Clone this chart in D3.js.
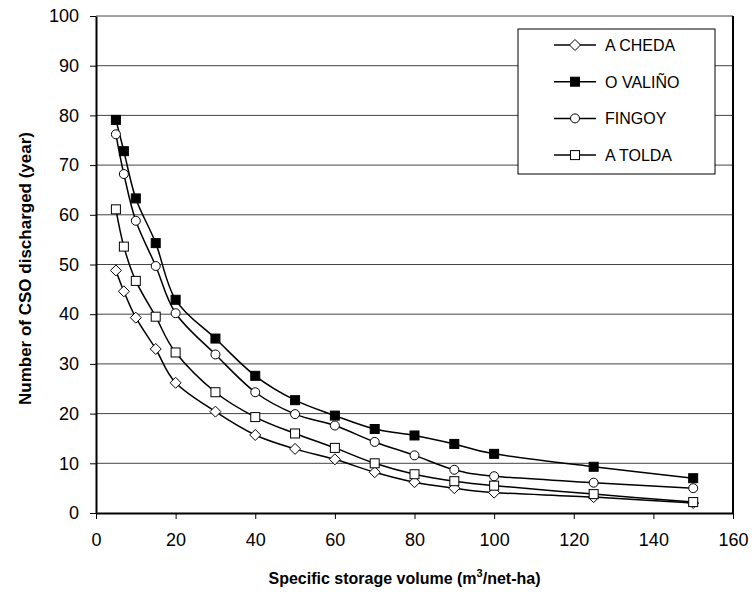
<!DOCTYPE html>
<html>
<head>
<meta charset="utf-8">
<script src="https://cdn.jsdelivr.net/npm/d3@7"></script>
<style>
  body { margin: 0; background: #fff; }
  text { font-family: "Liberation Sans", Arial, sans-serif; fill: #000; }
</style>
</head>
<body>
<div id="chart"></div>
<script>
// data
var volume = [5, 7, 10, 15, 20, 30, 40, 50, 60, 70, 80, 90, 100, 125, 150];
var aCheda = [48.8, 44.6, 39.3, 33.0, 26.2, 20.4, 15.7, 12.9, 10.8, 8.2, 6.2, 5.0, 4.1, 3.2, 2.0];
var oValino = [79.1, 72.8, 63.3, 54.3, 42.9, 35.1, 27.6, 22.7, 19.6, 16.9, 15.6, 13.9, 11.9, 9.3, 7.0];
var fingoy = [76.2, 68.2, 58.8, 49.7, 40.2, 31.9, 24.3, 19.9, 17.6, 14.3, 11.6, 8.7, 7.4, 6.1, 5.0];
var aTolda = [61.1, 53.6, 46.7, 39.5, 32.3, 24.3, 19.3, 16.0, 13.1, 10.0, 7.8, 6.4, 5.5, 3.8, 2.2];
var seriesNames = ["A CHEDA", "O VALIÑO", "FINGOY", "A TOLDA"];
var xTicks = [0, 20, 40, 60, 80, 100, 120, 140, 160];
var yTicks = [0, 10, 20, 30, 40, 50, 60, 70, 80, 90, 100];

var width = 752, height = 593;
// plot area edges
var plotLeft = 96, plotRight = 733, plotTop = 16, plotBottom = 513;

var series = [
  { name: seriesNames[0], values: aCheda, marker: "diamond" },
  { name: seriesNames[1], values: oValino, marker: "squareFilled" },
  { name: seriesNames[2], values: fingoy, marker: "circle" },
  { name: seriesNames[3], values: aTolda, marker: "square" }
];

var svg = d3.select("#chart").append("svg")
  .attr("width", width)
  .attr("height", height);

var x = d3.scaleLinear().domain([0, 160]).range([plotLeft, plotRight]);
var y = d3.scaleLinear().domain([0, 100]).range([plotBottom, plotTop]);

// gridlines
svg.append("g")
  .selectAll("line")
  .data(yTicks.slice(1))
  .enter().append("line")
  .attr("x1", plotLeft).attr("x2", plotRight)
  .attr("y1", function(d) { return y(d); })
  .attr("y2", function(d) { return y(d); })
  .attr("stroke", "#444")
  .attr("stroke-width", 1);

// plot border (right side)
svg.append("line")
  .attr("x1", plotRight).attr("x2", plotRight)
  .attr("y1", plotTop).attr("y2", plotBottom)
  .attr("stroke", "#000").attr("stroke-width", 2);

// axes
var yAxis = svg.append("g")
  .attr("transform", "translate(" + plotLeft + ",0)")
  .call(d3.axisLeft(y).tickValues(yTicks).tickSize(6).tickPadding(11).tickSizeOuter(0));
var xAxis = svg.append("g")
  .attr("transform", "translate(0," + plotBottom + ")")
  .call(d3.axisBottom(x).tickValues(xTicks).tickSize(6).tickPadding(14).tickSizeOuter(0));

[yAxis, xAxis].forEach(function(a) {
  a.select(".domain").attr("stroke", "#000").attr("stroke-width", 2);
  a.selectAll(".tick line").attr("stroke", "#000");
  a.selectAll(".tick text")
    .style("font-family", '"Liberation Sans", Arial, sans-serif')
    .style("font-size", "18px");
});

// axis titles
svg.append("text")
  .attr("x", (plotLeft + plotRight) / 2 - 10)
  .attr("y", 584)
  .attr("text-anchor", "middle")
  .style("font-size", "16px")
  .style("font-weight", "bold")
  .html('Specific storage volume (m<tspan dy="-7" style="font-size:11px">3</tspan><tspan dy="7">/net-ha)</tspan>');

svg.append("text")
  .attr("transform", "translate(31," + ((plotTop + plotBottom) / 2 + 4) + ") rotate(-90)")
  .attr("text-anchor", "middle")
  .style("font-size", "17px")
  .style("font-weight", "bold")
  .text("Number of CSO discharged (year)");

// lines (smoothed like the original)
var line = d3.line()
  .x(function(d, i) { return x(volume[i]); })
  .y(function(d) { return y(d); })
  .curve(d3.curveCardinal.tension(0));

svg.append("g")
  .selectAll("path")
  .data(series)
  .enter().append("path")
  .attr("d", function(d) { return line(d.values); })
  .attr("fill", "none")
  .attr("stroke", "#000")
  .attr("stroke-width", 1.5);

// markers
function drawMarker(g, type) {
  if (type === "diamond") {
    g.append("path").attr("d", "M0,-5.5L5.5,0L0,5.5L-5.5,0Z")
      .attr("fill", "#fff").attr("stroke", "#000").attr("stroke-width", 1);
  } else if (type === "squareFilled") {
    g.append("rect").attr("x", -4.5).attr("y", -4.5).attr("width", 9).attr("height", 9)
      .attr("fill", "#000").attr("stroke", "#000").attr("stroke-width", 1);
  } else if (type === "circle") {
    g.append("circle").attr("r", 4.5)
      .attr("fill", "#fff").attr("stroke", "#000").attr("stroke-width", 1);
  } else {
    g.append("rect").attr("x", -4.5).attr("y", -4.5).attr("width", 9).attr("height", 9)
      .attr("fill", "#fff").attr("stroke", "#000").attr("stroke-width", 1);
  }
}

series.forEach(function(s) {
  svg.append("g")
    .selectAll("g")
    .data(s.values)
    .enter().append("g")
    .attr("transform", function(d, i) { return "translate(" + x(volume[i]) + "," + y(d) + ")"; })
    .each(function() { drawMarker(d3.select(this), s.marker); });
});

// legend
var legend = svg.append("g").attr("transform", "translate(518,29)");
legend.append("rect")
  .attr("width", 197).attr("height", 145)
  .attr("fill", "#fff").attr("stroke", "#000").attr("stroke-width", 1);

var item = legend.selectAll(".legend")
  .data(series)
  .enter().append("g")
  .attr("class", "legend")
  .attr("transform", function(d, i) { return "translate(0," + (16 + i * 36.7) + ")"; });

item.append("line")
  .attr("x1", 36).attr("x2", 78)
  .attr("stroke", "#000").attr("stroke-width", 1.5);
item.append("g")
  .attr("transform", "translate(57,0)")
  .each(function(d) { drawMarker(d3.select(this), d.marker); });
item.append("text")
  .attr("x", 87).attr("y", 6)
  .style("font-size", "16px")
  .text(function(d) { return d.name; });
</script>
</body>
</html>
